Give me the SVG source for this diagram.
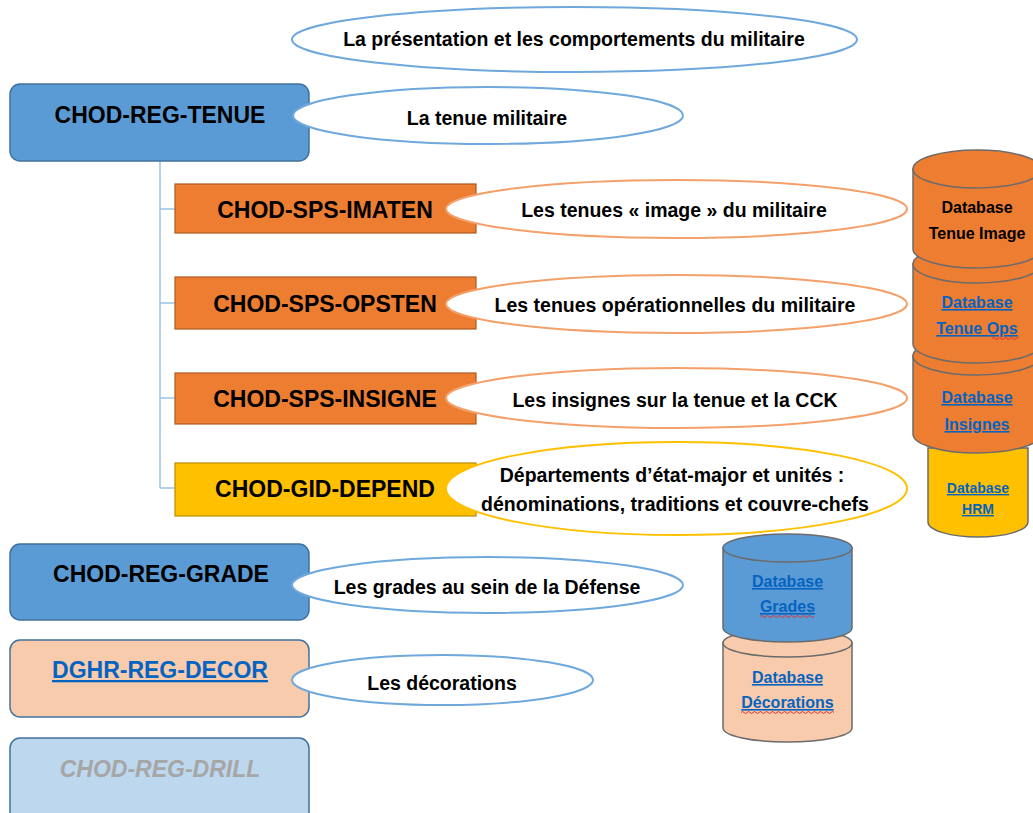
<svg xmlns="http://www.w3.org/2000/svg" width="1033" height="813" viewBox="0 0 1033 813">
<style>
text{font-family:"Liberation Sans",Arial,sans-serif;font-weight:bold;text-anchor:middle}
.box{font-size:23px;fill:#000}
.ell{font-size:19.5px;fill:#000}
.db{font-size:16px}
.lnk{fill:#0563c1;text-decoration:underline}
.eb{fill:#fff;stroke:#6fa8dc;stroke-width:2}
.eo{fill:#fff;stroke:#f4a06a;stroke-width:2}
.ey{fill:#fff;stroke:#ffc000;stroke-width:2}
.cyl{stroke:#6b6b6b;stroke-width:1.5}
.sq{fill:none;stroke:#e03030;stroke-width:1}
.conn{stroke:#9dc3e6;stroke-width:1.5;fill:none}
</style>
<rect width="1033" height="813" fill="#fff"/>

<g id="connectors">
<path class="conn" d="M160,161 V488 M160,209 H175 M160,303 H175 M160,398 H175 M160,488 H175"/>
</g>

<!-- boxes -->
<g id="chod-reg-tenue">
<rect x="10" y="84" width="299" height="77" rx="10" fill="#5b9bd5" stroke="#41719c" stroke-width="1.5"/>
<text class="box" x="160" y="123">CHOD-REG-TENUE</text>
</g>
<g id="chod-sps-imaten">
<rect x="175" y="184" width="301" height="49" fill="#ed7d31" stroke="#ae5a21" stroke-width="1.2"/>
<text class="box" x="325" y="218">CHOD-SPS-IMATEN</text>
</g>
<g id="chod-sps-opsten">
<rect x="175" y="277" width="301" height="52" fill="#ed7d31" stroke="#ae5a21" stroke-width="1.2"/>
<text class="box" x="325" y="312">CHOD-SPS-OPSTEN</text>
</g>
<g id="chod-sps-insigne">
<rect x="175" y="373" width="301" height="51" fill="#ed7d31" stroke="#ae5a21" stroke-width="1.2"/>
<text class="box" x="325" y="407">CHOD-SPS-INSIGNE</text>
</g>
<g id="chod-gid-depend">
<rect x="175" y="463" width="301" height="53" fill="#ffc000" stroke="#bc8c00" stroke-width="1.2"/>
<text class="box" x="325" y="497">CHOD-GID-DEPEND</text>
</g>
<g id="chod-reg-grade">
<rect x="10" y="544" width="299" height="76" rx="10" fill="#5b9bd5" stroke="#41719c" stroke-width="1.5"/>
<text class="box" x="161" y="582">CHOD-REG-GRADE</text>
</g>
<g id="dghr-reg-decor">
<rect x="10" y="640" width="299" height="77" rx="10" fill="#f8cbad" stroke="#41719c" stroke-width="1.5"/>
<text class="box lnk" x="160" y="678">DGHR-REG-DECOR</text>
</g>
<g id="chod-reg-drill">
<rect x="10" y="738" width="299" height="85" rx="10" fill="#bdd7ee" stroke="#41719c" stroke-width="1.5"/>
<text class="box" x="160" y="777" fill="#a6a6a6" style="fill:#a6a6a6;font-style:italic">CHOD-REG-DRILL</text>
</g>

<!-- databases right stack -->
<g id="db-hrm">
<path class="cyl" fill="#ffc000" d="M928,448 V522 A50,15 0 0 0 1028,522 V448 Z"/>
<text class="lnk" x="978" y="493" style="font-size:14px">Database</text>
<text class="lnk" x="978" y="514" style="font-size:14px">HRM</text>
</g>
<g id="db-insignes">
<path class="cyl" fill="#ed7d31" d="M913,356 V434 A64,19 0 0 0 1041,434 V356 Z"/>
<ellipse class="cyl" cx="977" cy="356" rx="64" ry="19" fill="#ed7d31"/>
<text class="db lnk" x="977" y="403">Database</text>
<text class="db lnk" x="977" y="430">Insignes</text>
</g>
<g id="db-tenue-ops">
<path class="cyl" fill="#ed7d31" d="M913,264 V344 A64,19 0 0 0 1041,344 V264 Z"/>
<ellipse class="cyl" cx="977" cy="264" rx="64" ry="19" fill="#ed7d31"/>
<text class="db lnk" x="977" y="308">Database</text>
<text class="db lnk" x="977" y="334">Tenue Ops</text>
<path class="sq" d="M992,338.5 q1.5,-2 3,0 t3,0 t3,0 t3,0 t3,0 t3,0 t3,0 t3,0 t3,0"/>
</g>
<g id="db-tenue-image">
<path class="cyl" fill="#ed7d31" d="M913,169 V249 A64,19 0 0 0 1041,249 V169 Z"/>
<ellipse class="cyl" cx="977" cy="169" rx="64" ry="19" fill="#ed7d31"/>
<text class="db" x="977" y="213" fill="#000">Database</text>
<text class="db" x="977" y="239" fill="#000">Tenue Image</text>
</g>

<!-- databases middle stack -->
<g id="db-decorations">
<path class="cyl" fill="#f8cbad" d="M723,643 V728 A64.5,14 0 0 0 852,728 V643 Z"/>
<ellipse class="cyl" cx="787.5" cy="643" rx="64.5" ry="14" fill="#f8cbad"/>
<text class="db lnk" x="787.5" y="683">Database</text>
<text class="db lnk" x="787.5" y="708">Décorations</text>
<path class="sq" d="M741,712.5 q1.5,-2 3,0 t3,0 t3,0 t3,0 t3,0 t3,0 t3,0 t3,0 t3,0 t3,0 t3,0 t3,0 t3,0 t3,0 t3,0 t3,0 t3,0 t3,0 t3,0 t3,0 t3,0 t3,0 t3,0 t3,0 t3,0 t3,0 t3,0 t3,0 t3,0 t3,0 t3,0"/>
</g>
<g id="db-grades">
<path class="cyl" fill="#5b9bd5" d="M723,548 V628 A64.5,14 0 0 0 852,628 V548 Z"/>
<ellipse class="cyl" cx="787.5" cy="548" rx="64.5" ry="14" fill="#5b9bd5"/>
<text class="db lnk" x="787.5" y="587">Database</text>
<text class="db lnk" x="787.5" y="612">Grades</text>
<path class="sq" d="M760,616.5 q1.5,-2 3,0 t3,0 t3,0 t3,0 t3,0 t3,0 t3,0 t3,0 t3,0 t3,0 t3,0 t3,0 t3,0 t3,0 t3,0 t3,0 t3,0 t3,0"/>
</g>

<!-- description ellipses -->
<g id="desc-presentation">
<ellipse class="eb" cx="574.5" cy="39.5" rx="282.5" ry="32.5"/>
<text class="ell" x="574" y="46">La présentation et les comportements du militaire</text>
</g>
<g id="desc-tenue">
<ellipse class="eb" cx="488" cy="115.5" rx="195" ry="28.5"/>
<text class="ell" x="487" y="125">La tenue militaire</text>
</g>
<g id="desc-imaten">
<ellipse class="eo" cx="676.5" cy="209" rx="230.5" ry="29"/>
<text class="ell" x="674" y="217">Les tenues « image » du militaire</text>
</g>
<g id="desc-opsten">
<ellipse class="eo" cx="676.5" cy="304" rx="230.5" ry="29"/>
<text class="ell" x="675" y="312">Les tenues opérationnelles du militaire</text>
</g>
<g id="desc-insigne">
<ellipse class="eo" cx="676.5" cy="398" rx="230.5" ry="30"/>
<text class="ell" x="675" y="407">Les insignes sur la tenue et la CCK</text>
</g>
<g id="desc-depend">
<ellipse class="ey" cx="676.5" cy="488.5" rx="230.5" ry="46.5"/>
<text class="ell" x="672" y="482">Départements d’état-major et unités :</text>
<text class="ell" x="675" y="511">dénominations, traditions et couvre-chefs</text>
</g>
<g id="desc-grade">
<ellipse class="eb" cx="487.5" cy="585" rx="195.5" ry="28"/>
<text class="ell" x="487" y="594">Les grades au sein de la Défense</text>
</g>
<g id="desc-decor">
<ellipse class="eb" cx="442.5" cy="680" rx="150.5" ry="25"/>
<text class="ell" x="442" y="690">Les décorations</text>
</g>
</svg>
